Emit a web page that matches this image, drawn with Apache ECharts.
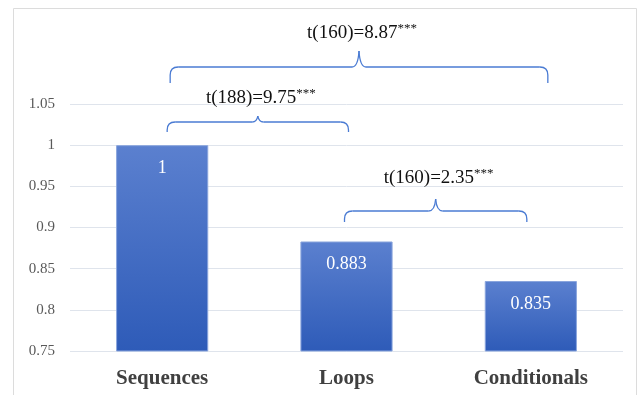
<!DOCTYPE html>
<html>
<head>
<meta charset="utf-8">
<script src="https://cdn.jsdelivr.net/npm/echarts@6/dist/echarts.min.js"></script>
<style>
    html,body{margin:0;padding:0;background:#fff;}
    #chart{width:639px;height:395px;}
</style>
</head>
<body>
<div id="chart"></div>
<script>
// data
var categories = ['Sequences', 'Loops', 'Conditionals'];
var means = [1, 0.883, 0.835];
var yTicks = [0.75, 0.8, 0.85, 0.9, 0.95, 1, 1.05];
// comparisons: [from bar, to bar, statistic]
var comparisons = [
    [0, 2, 't(160)=8.87'],
    [0, 1, 't(188)=9.75'],
    [1, 2, 't(160)=2.35']
];
var stars = ['***', '***', '***'];

// bracket layout (px): y of line, end drop, tip height, x offsets, text gap
var bracketLayout = [
    {y: 67, drop: 16, tip: 16, dx1: 8, dx2: 17, textGap: 34},
    {y: 122, drop: 10, tip: 6, dx1: 5, dx2: 2, textGap: 24},
    {y: 211, drop: 11, tip: 12, dx1: -2, dx2: -4, textGap: 33}
];

var serif = '"Liberation Serif", "Times New Roman", serif';
var blue = '#4a7bd3';

var chart = echarts.init(document.getElementById('chart'));

var option = {
    backgroundColor: '#fff',
    animation: false,
    grid: {left: 70, right: 16, top: 104, bottom: 44},
    xAxis: {
        type: 'category',
        data: categories,
        axisLine: {show: false},
        axisTick: {show: false},
        axisLabel: {
            color: '#404040',
            fontFamily: serif,
            fontWeight: 'bold',
            fontSize: 21,
            margin: 17
        }
    },
    yAxis: {
        type: 'value',
        min: yTicks[0],
        max: yTicks[yTicks.length - 1],
        interval: 0.05,
        axisLine: {show: false},
        axisTick: {show: false},
        splitLine: {lineStyle: {color: '#dfe4ec', width: 1}},
        axisLabel: {
            color: '#595959',
            fontFamily: serif,
            fontSize: 15,
            margin: 15,
            formatter: function (v) {
                return String(+v.toFixed(2));
            }
        }
    },
    series: [{
        type: 'bar',
        data: means,
        barWidth: '50%',
        itemStyle: {
            color: new echarts.graphic.LinearGradient(0, 0, 0, 1, [
                {offset: 0, color: '#5b80cf'},
                {offset: 1, color: '#2e5bb8'}
            ]),
            borderColor: '#8aa5dd',
            borderWidth: 1
        },
        label: {
            show: true,
            position: 'insideTop',
            distance: 14,
            color: '#fff',
            fontFamily: serif,
            fontSize: 18
        }
    }]
};

chart.setOption(option);

// 括号（直线+二次曲线拼出来）
function bracketParts(x1, x2, y, drop, tip) {
    var r = Math.min(8, drop);
    var xm = (x1 + x2) / 2;
    var w = Math.min(7, tip * 0.6 + 2);
    var st = {stroke: blue, lineWidth: 1.3, fill: 'none'};
    function line(ax, ay, bx, by) {
        return {type: 'line', shape: {x1: ax, y1: ay, x2: bx, y2: by}, style: st, silent: true};
    }
    function curve(ax, ay, cx, cy, bx, by) {
        return {type: 'bezierCurve', shape: {x1: ax, y1: ay, cpx1: cx, cpy1: cy, x2: bx, y2: by}, style: st, silent: true};
    }
    return [
        line(x1, y + drop, x1, y + r),
        curve(x1, y + r, x1, y, x1 + r, y),
        line(x1 + r, y, xm - w, y),
        curve(xm - w, y, xm - 1, y, xm, y - tip),
        curve(xm, y - tip, xm + 1, y, xm + w, y),
        line(xm + w, y, x2 - r, y),
        curve(x2 - r, y, x2, y, x2, y + r),
        line(x2, y + r, x2, y + drop)
    ];
}

var graphics = [{
    type: 'rect',
    shape: {x: 13.5, y: 8.5, width: 623, height: 420},
    style: {fill: 'none', stroke: '#dcdcdc', lineWidth: 1},
    silent: true,
    z: -1
}];

comparisons.forEach(function (c, i) {
    var lay = bracketLayout[i];
    var x1 = chart.convertToPixel({xAxisIndex: 0}, categories[c[0]]) + lay.dx1;
    var x2 = chart.convertToPixel({xAxisIndex: 0}, categories[c[1]]) + lay.dx2;
    var xm = (x1 + x2) / 2;
    graphics = graphics.concat(bracketParts(x1, x2, lay.y, lay.drop, lay.tip));
    graphics.push({
        type: 'text',
        x: xm + 3,
        y: lay.y - lay.textGap,
        style: {
            text: '{t|' + c[2] + '}{s|' + stars[i] + '}',
            align: 'center',
            verticalAlign: 'middle',
            rich: {
                t: {fontFamily: serif, fontSize: 19, fill: '#111', lineHeight: 22},
                s: {fontFamily: serif, fontSize: 13, fill: '#111', verticalAlign: 'top', lineHeight: 22, padding: [0, 0, 10, 0]}
            }
        },
        silent: true
    });
});

chart.setOption({graphic: {elements: graphics}});
</script>
</body>
</html>
